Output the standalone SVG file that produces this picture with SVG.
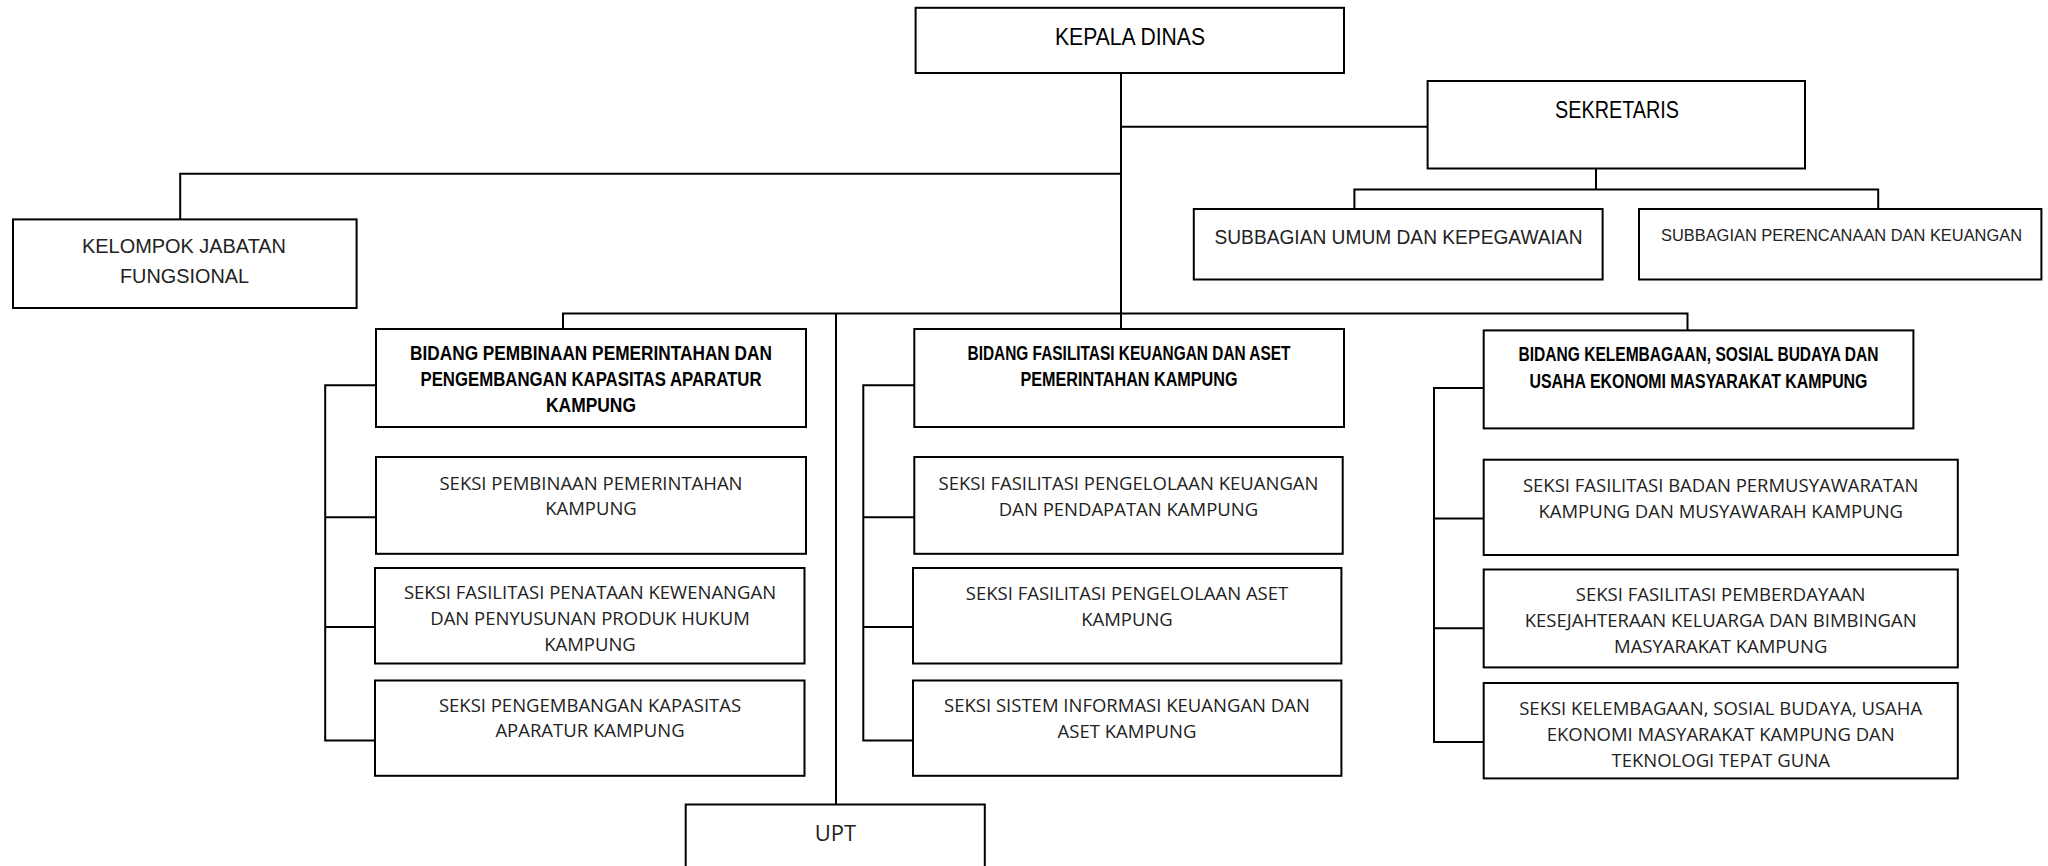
<svg xmlns="http://www.w3.org/2000/svg" width="2048" height="866" viewBox="0 0 2048 866">
<style>
.box{fill:#fff;stroke:#000;stroke-width:2}
.ln{fill:none;stroke:#000;stroke-width:2}
.t{font-family:"Open Sans","DejaVu Sans",sans-serif;font-size:18.5px;fill:#222;text-anchor:middle}
.h{font-family:"Liberation Sans Narrow","Liberation Sans",sans-serif;font-weight:bold;font-size:19.5px;fill:#000;text-anchor:middle}
.k{font-family:"Liberation Sans Narrow","Liberation Sans",sans-serif;font-size:24px;fill:#000;text-anchor:middle}
.s{font-family:"Liberation Sans Narrow","Liberation Sans",sans-serif;font-size:20px;fill:#222;text-anchor:middle}
</style>
<rect width="2048" height="866" fill="#fff"/>
<g id="connectors">
<path class="ln" d="M1121 73V313.5"/>
<path class="ln" d="M1121 126.7H1427.6"/>
<path class="ln" d="M1596 168.5V189.4M1354.4 209V189.4H1878.2V209"/>
<path class="ln" d="M1121 173.7H180.2V219.4"/>
<path class="ln" d="M563 329V313.5H1687.5V330.4M1121 313.5V329M836 313.5V804.5"/>
<path class="ln" d="M376 385.3H325.2V740.6H375M325.2 517.2H376M325.2 627H375"/>
<path class="ln" d="M914.3 385.3H863.3V740.6H913M863.3 517.2H914M863.3 627H913"/>
<path class="ln" d="M1483.7 387.9H1434V741.9H1483.7M1434 518.5H1483.7M1434 628.2H1483.7"/>
</g>
<g id="kepala-dinas"><rect class="box" x="915.6" y="7.8" width="428.4" height="65.2"/><text class="k" x="1130" y="45" textLength="150" lengthAdjust="spacingAndGlyphs">KEPALA DINAS</text></g>
<g id="sekretaris"><rect class="box" x="1427.6" y="81" width="377.4" height="87.5"/><text class="k" x="1617" y="118" textLength="124" lengthAdjust="spacingAndGlyphs">SEKRETARIS</text></g>
<g id="subbag-umum"><rect class="box" x="1193.8" y="209" width="408.8" height="70.5"/><text class="s" x="1398.5" y="243.5" textLength="368" lengthAdjust="spacingAndGlyphs">SUBBAGIAN UMUM DAN KEPEGAWAIAN</text></g>
<g id="subbag-perencanaan"><rect class="box" x="1639" y="209" width="402.4" height="70.5"/><text class="s" style="font-size:17px" x="1841.5" y="241" textLength="361" lengthAdjust="spacingAndGlyphs">SUBBAGIAN PERENCANAAN DAN KEUANGAN</text></g>
<g id="kelompok"><rect class="box" x="13" y="219.4" width="343.6" height="88.6"/><text class="s" x="184" y="252.5" textLength="204" lengthAdjust="spacingAndGlyphs">KELOMPOK JABATAN</text><text class="s" x="184.5" y="282.5" textLength="129" lengthAdjust="spacingAndGlyphs">FUNGSIONAL</text></g>
<g id="bidang-1"><rect class="box" x="376" y="329" width="430" height="98"/>
<text class="h" x="591" y="359.5" textLength="362" lengthAdjust="spacingAndGlyphs">BIDANG PEMBINAAN PEMERINTAHAN DAN</text>
<text class="h" x="591" y="385.7" textLength="341" lengthAdjust="spacingAndGlyphs">PENGEMBANGAN KAPASITAS APARATUR</text>
<text class="h" x="591" y="411.8" textLength="90" lengthAdjust="spacingAndGlyphs">KAMPUNG</text></g>
<g id="seksi-1a"><rect class="box" x="376" y="457" width="430" height="96.8"/><text class="t" x="591" y="490">SEKSI PEMBINAAN PEMERINTAHAN</text><text class="t" x="591" y="515">KAMPUNG</text></g>
<g id="seksi-1b"><rect class="box" x="375" y="568" width="429.5" height="95.5"/><text class="t" x="590" y="598.5">SEKSI FASILITASI PENATAAN KEWENANGAN</text><text class="t" x="590" y="624.5">DAN PENYUSUNAN PRODUK HUKUM</text><text class="t" x="590" y="650.5">KAMPUNG</text></g>
<g id="seksi-1c"><rect class="box" x="375" y="680.5" width="429.5" height="95.3"/><text class="t" x="590" y="712">SEKSI PENGEMBANGAN KAPASITAS</text><text class="t" x="590" y="737">APARATUR KAMPUNG</text></g>
<g id="upt"><rect class="box" x="685.7" y="804.5" width="299.1" height="70"/><text class="t" style="font-size:22px" x="835.5" y="841">UPT</text></g>
<g id="bidang-2"><rect class="box" x="914.3" y="329" width="429.7" height="98"/>
<text class="h" x="1129" y="359.5" textLength="323" lengthAdjust="spacingAndGlyphs">BIDANG FASILITASI KEUANGAN DAN ASET</text>
<text class="h" x="1129" y="385.7" textLength="217" lengthAdjust="spacingAndGlyphs">PEMERINTAHAN KAMPUNG</text></g>
<g id="seksi-2a"><rect class="box" x="914.3" y="457" width="428.4" height="96.8"/><text class="t" x="1128.5" y="490">SEKSI FASILITASI PENGELOLAAN KEUANGAN</text><text class="t" x="1128.5" y="516">DAN PENDAPATAN KAMPUNG</text></g>
<g id="seksi-2b"><rect class="box" x="913" y="568" width="428.4" height="95.5"/><text class="t" x="1127" y="599.5">SEKSI FASILITASI PENGELOLAAN ASET</text><text class="t" x="1127" y="625.5">KAMPUNG</text></g>
<g id="seksi-2c"><rect class="box" x="913" y="680.5" width="428.4" height="95.3"/><text class="t" x="1127" y="712">SEKSI SISTEM INFORMASI KEUANGAN DAN</text><text class="t" x="1127" y="738">ASET KAMPUNG</text></g>
<g id="bidang-3"><rect class="box" x="1483.7" y="330.4" width="429.7" height="98"/>
<text class="h" x="1698.5" y="361" textLength="360" lengthAdjust="spacingAndGlyphs">BIDANG KELEMBAGAAN, SOSIAL BUDAYA DAN</text>
<text class="h" x="1698.5" y="388.4" textLength="338" lengthAdjust="spacingAndGlyphs">USAHA EKONOMI MASYARAKAT KAMPUNG</text></g>
<g id="seksi-3a"><rect class="box" x="1483.7" y="459.7" width="474.1" height="95.3"/><text class="t" x="1720.7" y="491.5">SEKSI FASILITASI BADAN PERMUSYAWARATAN</text><text class="t" x="1720.7" y="517.5">KAMPUNG DAN MUSYAWARAH KAMPUNG</text></g>
<g id="seksi-3b"><rect class="box" x="1483.7" y="569.5" width="474.1" height="97.9"/><text class="t" x="1720.7" y="601">SEKSI FASILITASI PEMBERDAYAAN</text><text class="t" x="1720.7" y="627">KESEJAHTERAAN KELUARGA DAN BIMBINGAN</text><text class="t" x="1720.7" y="653">MASYARAKAT KAMPUNG</text></g>
<g id="seksi-3c"><rect class="box" x="1483.7" y="683" width="474.1" height="95.4"/><text class="t" x="1720.7" y="714.5">SEKSI KELEMBAGAAN, SOSIAL BUDAYA, USAHA</text><text class="t" x="1720.7" y="740.5">EKONOMI MASYARAKAT KAMPUNG DAN</text><text class="t" x="1720.7" y="766.5">TEKNOLOGI TEPAT GUNA</text></g>
</svg>
